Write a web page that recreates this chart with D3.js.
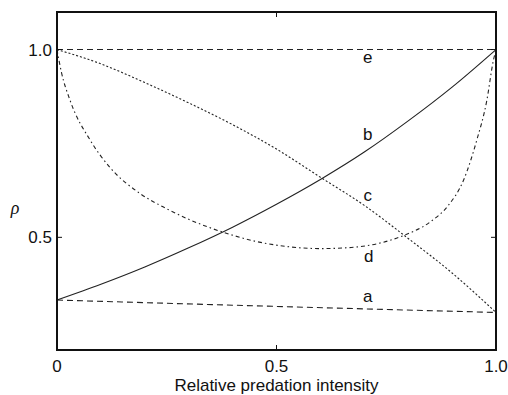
<!DOCTYPE html>
<html>
<head>
<meta charset="utf-8">
<script src="https://cdn.jsdelivr.net/npm/d3@7"></script>
<style>
  body { margin: 0; background: #fff; }
  text { font-family: "Liberation Sans", Arial, sans-serif; fill: #111; }
</style>
</head>
<body>
<div id="chart"></div>
<script>
// ---- Data ----
const xTicks = [0, 0.5, 1.0];
const yTicks = [0.5, 1.0];

const aX = [0, 0.5, 1.0];
const aY = [0.333, 0.316, 0.300];

const bX = [0, 0.1, 0.2, 0.3, 0.4, 0.5, 0.6, 0.7, 0.8, 0.9, 1.0];
const bY = [0.333, 0.375, 0.421, 0.472, 0.527, 0.588, 0.654, 0.727, 0.810, 0.900, 1.0];

const cX = [0, 0.1, 0.2, 0.3, 0.4, 0.5, 0.6, 0.7, 0.8, 0.9, 1.0];
const cY = [1.0, 0.962, 0.912, 0.858, 0.800, 0.735, 0.660, 0.585, 0.497, 0.405, 0.300];

const dX = [0, 0.01, 0.03, 0.076, 0.12, 0.19, 0.25, 0.3, 0.38, 0.45, 0.52, 0.6, 0.67, 0.74, 0.79, 0.85, 0.89, 0.926, 0.956, 0.979, 0.994, 1.0];
const dY = [1.0, 0.94, 0.864, 0.758, 0.687, 0.616, 0.576, 0.548, 0.513, 0.490, 0.476, 0.470, 0.473, 0.486, 0.505, 0.541, 0.583, 0.652, 0.758, 0.864, 0.971, 1.0];

const eX = [0, 1.0];
const eY = [1.0, 1.0];

const curveLabels = [
  { text: "e", x: 0.708, y: 0.963 },
  { text: "b", x: 0.708, y: 0.758 },
  { text: "c", x: 0.708, y: 0.598 },
  { text: "d", x: 0.710, y: 0.434 },
  { text: "a", x: 0.708, y: 0.327 }
];

const width = 508;
const height = 395;
const margin = { top: 12, right: 12, bottom: 45, left: 57 };
const chartWidth = width - margin.left - margin.right;
const chartHeight = height - margin.top - margin.bottom;

const svg = d3.select("#chart")
  .append("svg")
  .attr("width", width)
  .attr("height", height);

const g = svg.append("g")
  .attr("transform", `translate(${margin.left},${margin.top})`);

const x = d3.scaleLinear().domain([0, 1]).range([0, chartWidth]);
const y = d3.scaleLinear().domain([0.2, 1.1]).range([chartHeight, 0]);

// ---- Curves ----
const zip = (xs, ys) => xs.map((v, i) => [v, ys[i]]);
const line = d3.line()
  .x(d => x(d[0]))
  .y(d => y(d[1]))
  .curve(d3.curveMonotoneX);

const series = [
  { pts: zip(eX, eY), dash: "6,4" },
  { pts: zip(aX, aY), dash: "6,4" },
  { pts: zip(bX, bY), dash: null },
  { pts: zip(cX, cY), dash: "2,2" },
  { pts: zip(dX, dY), dash: "4,3,1.5,3" }
];

g.selectAll(".curve")
  .data(series)
  .enter()
  .append("path")
  .attr("class", "curve")
  .attr("d", d => line(d.pts))
  .attr("fill", "none")
  .attr("stroke", "#222")
  .attr("stroke-width", 1.1)
  .attr("stroke-dasharray", d => d.dash);

// ---- Frame and ticks ----
g.append("rect")
  .attr("width", chartWidth)
  .attr("height", chartHeight)
  .attr("fill", "none")
  .attr("stroke", "#111")
  .attr("stroke-width", 2);

const tickLen = 5;
const xTickG = g.append("g");
xTickG.selectAll(".xb")
  .data(xTicks)
  .enter()
  .append("line")
  .attr("x1", d => x(d)).attr("x2", d => x(d))
  .attr("y1", chartHeight).attr("y2", chartHeight - tickLen)
  .attr("stroke", "#111");
xTickG.selectAll(".xt")
  .data(xTicks)
  .enter()
  .append("line")
  .attr("x1", d => x(d)).attr("x2", d => x(d))
  .attr("y1", 0).attr("y2", tickLen)
  .attr("stroke", "#111");
xTickG.selectAll("text")
  .data(xTicks)
  .enter()
  .append("text")
  .attr("x", d => x(d))
  .attr("y", chartHeight + 22)
  .attr("text-anchor", "middle")
  .attr("font-size", 17)
  .text(d => d === 0 ? "0" : d3.format(".1f")(d));

const yTickG = g.append("g");
yTickG.selectAll(".yl")
  .data(yTicks)
  .enter()
  .append("line")
  .attr("x1", 0).attr("x2", tickLen)
  .attr("y1", d => y(d)).attr("y2", d => y(d))
  .attr("stroke", "#111");
yTickG.selectAll(".yr")
  .data(yTicks)
  .enter()
  .append("line")
  .attr("x1", chartWidth).attr("x2", chartWidth - tickLen)
  .attr("y1", d => y(d)).attr("y2", d => y(d))
  .attr("stroke", "#111");
yTickG.selectAll("text")
  .data(yTicks)
  .enter()
  .append("text")
  .attr("x", -5)
  .attr("y", d => y(d))
  .attr("dy", "0.36em")
  .attr("text-anchor", "end")
  .attr("font-size", 17)
  .text(d => d3.format(".1f")(d));

// ---- Curve labels ----
g.selectAll(".lbl")
  .data(curveLabels)
  .enter()
  .append("text")
  .attr("class", "lbl")
  .attr("x", d => x(d.x))
  .attr("y", d => y(d.y))
  .attr("text-anchor", "middle")
  .attr("font-size", 17)
  .text(d => d.text);

// ---- Axis titles ----
svg.append("text")
  .attr("x", margin.left + chartWidth / 2)
  .attr("y", height - 4)
  .attr("text-anchor", "middle")
  .attr("font-size", 17)
  .text("Relative predation intensity");

svg.append("text")
  .attr("x", 15)
  .attr("y", 214)
  .attr("text-anchor", "middle")
  .attr("font-size", 18)
  .attr("font-style", "italic")
  .style("font-family", "'Liberation Serif', 'DejaVu Serif', serif")
  .text("ρ");
</script>
</body>
</html>
